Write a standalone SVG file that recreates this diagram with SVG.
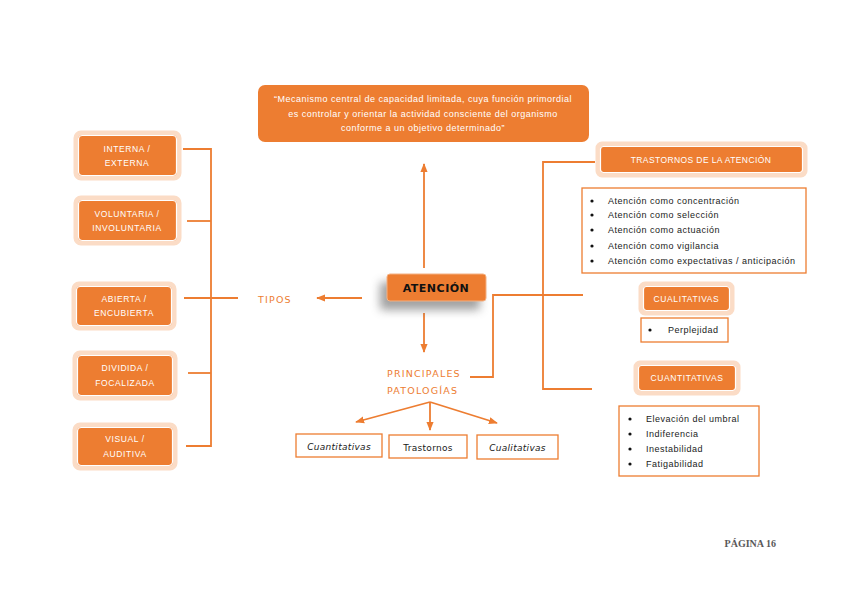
<svg xmlns="http://www.w3.org/2000/svg" width="848" height="599" viewBox="0 0 848 599">
<defs>
<marker id="ah" viewBox="0 0 10 10" refX="9" refY="5" markerWidth="5" markerHeight="5" orient="auto-start-reverse" markerUnits="strokeWidth">
<path d="M0,1 L10,5 L0,9 z" fill="#ED7D31"/>
</marker>
<filter id="sh" x="-40%" y="-60%" width="180%" height="260%">
<feGaussianBlur stdDeviation="5"/>
</filter>
</defs>
<style>
.glow{fill:#ED7D31;stroke:#FBDCC6;stroke-width:5}
.inner{fill:#ED7D31;stroke:#FFFFFF;stroke-width:1.2}
.wt{fill:#FFFFFF;font-family:"Liberation Sans",Arial,sans-serif;font-size:8.5px;text-anchor:middle;letter-spacing:0.6px}
.bk{fill:#1a1a1a;font-family:"Liberation Sans",Arial,sans-serif;font-size:9px;letter-spacing:0.5px}
.ln{fill:none;stroke:#ED7D31;stroke-width:1.8}
.lb{fill:#FFFFFF;stroke:#ED7D31;stroke-width:1.3}
.or{fill:#ED7D31;font-family:"DejaVu Sans",sans-serif;font-size:9.5px;letter-spacing:1.2px}
.it{fill:#1a1a1a;font-family:"DejaVu Sans",sans-serif;font-size:9px;text-anchor:middle;letter-spacing:0.3px}
.q{font-size:9px;letter-spacing:0.5px}
</style>
<rect width="848" height="599" fill="#FFFFFF"/>

<g id="connectors">
<path class="ln" d="M183,149 H211 V446 H186"/>
<path class="ln" d="M187,221 H211"/>
<path class="ln" d="M184,298 H238"/>
<path class="ln" d="M188,373 H211"/>
<path class="ln" d="M362,298 H317" marker-end="url(#ah)"/>
<path class="ln" d="M424,268 V164" marker-end="url(#ah)"/>
<path class="ln" d="M424,313 V352" marker-end="url(#ah)"/>
<path class="ln" d="M470,377 H493 V295 H583"/>
<path class="ln" d="M595,162 H543 V389 H592"/>
<path class="ln" d="M430,402 L356,422" marker-end="url(#ah)"/>
<path class="ln" d="M430,402 V430" marker-end="url(#ah)"/>
<path class="ln" d="M430,402 L497,423" marker-end="url(#ah)"/>
</g>

<g id="definicion">
<rect x="258" y="85" width="331" height="57" rx="7" fill="#ED7D31"/>
<text class="wt q" x="423" y="102">“Mecanismo central de capacidad limitada, cuya función primordial</text>
<text class="wt q" x="423" y="117">es controlar y orientar la actividad consciente del organismo</text>
<text class="wt q" x="423" y="131">conforme a un objetivo determinado”</text>
</g>

<g id="interna">
<rect class="glow" x="76" y="133" width="103" height="45" rx="5"/>
<rect class="inner" x="78.5" y="135.5" width="98" height="40" rx="4"/>
<text class="wt" x="127" y="152">INTERNA /</text>
<text class="wt" x="127" y="166">EXTERNA</text>
</g>
<g id="voluntaria">
<rect class="glow" x="76" y="198" width="103" height="45" rx="5"/>
<rect class="inner" x="78.5" y="200.5" width="98" height="40" rx="4"/>
<text class="wt" x="127" y="217">VOLUNTARIA /</text>
<text class="wt" x="127" y="231">INVOLUNTARIA</text>
</g>
<g id="abierta">
<rect class="glow" x="74" y="284" width="100" height="44" rx="5"/>
<rect class="inner" x="76.5" y="286.5" width="95" height="39" rx="4"/>
<text class="wt" x="124" y="302">ABIERTA /</text>
<text class="wt" x="124" y="316">ENCUBIERTA</text>
</g>
<g id="dividida">
<rect class="glow" x="75" y="353" width="100" height="45" rx="5"/>
<rect class="inner" x="77.5" y="355.5" width="95" height="40" rx="4"/>
<text class="wt" x="125" y="371">DIVIDIDA /</text>
<text class="wt" x="125" y="386">FOCALIZADA</text>
</g>
<g id="visual">
<rect class="glow" x="75" y="425" width="100" height="43" rx="5"/>
<rect class="inner" x="77.5" y="427.5" width="95" height="38" rx="4"/>
<text class="wt" x="125" y="442">VISUAL /</text>
<text class="wt" x="125" y="457">AUDITIVA</text>
</g>

<g id="tipos">
<text class="or" x="258" y="303">TIPOS</text>
</g>

<g id="atencion">
<rect x="380" y="282" width="100" height="28" rx="3" fill="#555555" opacity="0.55" filter="url(#sh)"/>
<rect x="387" y="274" width="99" height="27" rx="3" fill="#ED7D31" stroke="#F4B183" stroke-width="1"/>
<text x="436" y="292" text-anchor="middle" fill="#111111" font-family="DejaVu Sans,sans-serif" font-weight="bold" font-size="11px" letter-spacing="0.5">ATENCIÓN</text>
</g>

<g id="patologias">
<text class="or" x="387" y="377">PRINCIPALES</text>
<text class="or" x="387" y="394">PATOLOGÍAS</text>
</g>

<g id="cuantitativas-b">
<rect class="lb" x="296" y="434" width="86" height="23"/>
<text class="it" x="339" y="449.5" font-style="italic">Cuantitativas</text>
</g>
<g id="trastornos-b">
<rect class="lb" x="389" y="435" width="78" height="23"/>
<text class="it" x="428" y="450.5">Trastornos</text>
</g>
<g id="cualitativas-b">
<rect class="lb" x="477" y="435" width="81" height="24"/>
<text class="it" x="517.5" y="451" font-style="italic">Cualitativas</text>
</g>

<g id="trastornos">
<rect class="glow" x="598" y="144" width="207" height="31" rx="4"/>
<rect class="inner" x="600.5" y="146.5" width="202" height="26" rx="3"/>
<text class="wt" x="701" y="163" style="letter-spacing:0.4px">TRASTORNOS DE LA ATENCIÓN</text>
</g>
<g id="trastornos-lista">
<rect class="lb" x="582" y="188" width="224" height="85"/>
<g class="bk">
<circle cx="592" cy="201" r="1.6" fill="#111"/>
<circle cx="592" cy="215" r="1.6" fill="#111"/>
<circle cx="592" cy="230" r="1.6" fill="#111"/>
<circle cx="592" cy="246" r="1.6" fill="#111"/>
<circle cx="592" cy="261" r="1.6" fill="#111"/>
<text x="608" y="204">Atención como concentración</text>
<text x="608" y="218">Atención como selección</text>
<text x="608" y="233">Atención como actuación</text>
<text x="608" y="249">Atención como vigilancia</text>
<text x="608" y="264">Atención como expectativas / anticipación</text>
</g>
</g>

<g id="cualitativas">
<rect class="glow" x="641" y="284" width="91" height="29" rx="4"/>
<rect class="inner" x="643.5" y="286.5" width="86" height="24" rx="3"/>
<text class="wt" x="686.5" y="302">CUALITATIVAS</text>
</g>
<g id="cualitativas-lista">
<rect class="lb" x="641" y="318" width="87" height="24"/>
<circle cx="650" cy="330" r="1.6" fill="#111"/>
<text class="bk" x="668" y="333">Perplejidad</text>
</g>

<g id="cuantitativas">
<rect class="glow" x="636" y="363" width="102" height="30" rx="4"/>
<rect class="inner" x="638.5" y="365.5" width="97" height="25" rx="3"/>
<text class="wt" x="687" y="381">CUANTITATIVAS</text>
</g>
<g id="cuantitativas-lista">
<rect class="lb" x="619" y="406" width="140" height="70"/>
<g class="bk">
<circle cx="630" cy="419" r="1.6" fill="#111"/>
<circle cx="630" cy="434" r="1.6" fill="#111"/>
<circle cx="630" cy="449" r="1.6" fill="#111"/>
<circle cx="630" cy="464" r="1.6" fill="#111"/>
<text x="646" y="422">Elevación del umbral</text>
<text x="646" y="437">Indiferencia</text>
<text x="646" y="452">Inestabilidad</text>
<text x="646" y="467">Fatigabilidad</text>
</g>
</g>

<text x="776" y="547" text-anchor="end" fill="#595959" font-family="Liberation Serif,serif" font-weight="bold" font-size="10px">PÁGINA 16</text>
</svg>
